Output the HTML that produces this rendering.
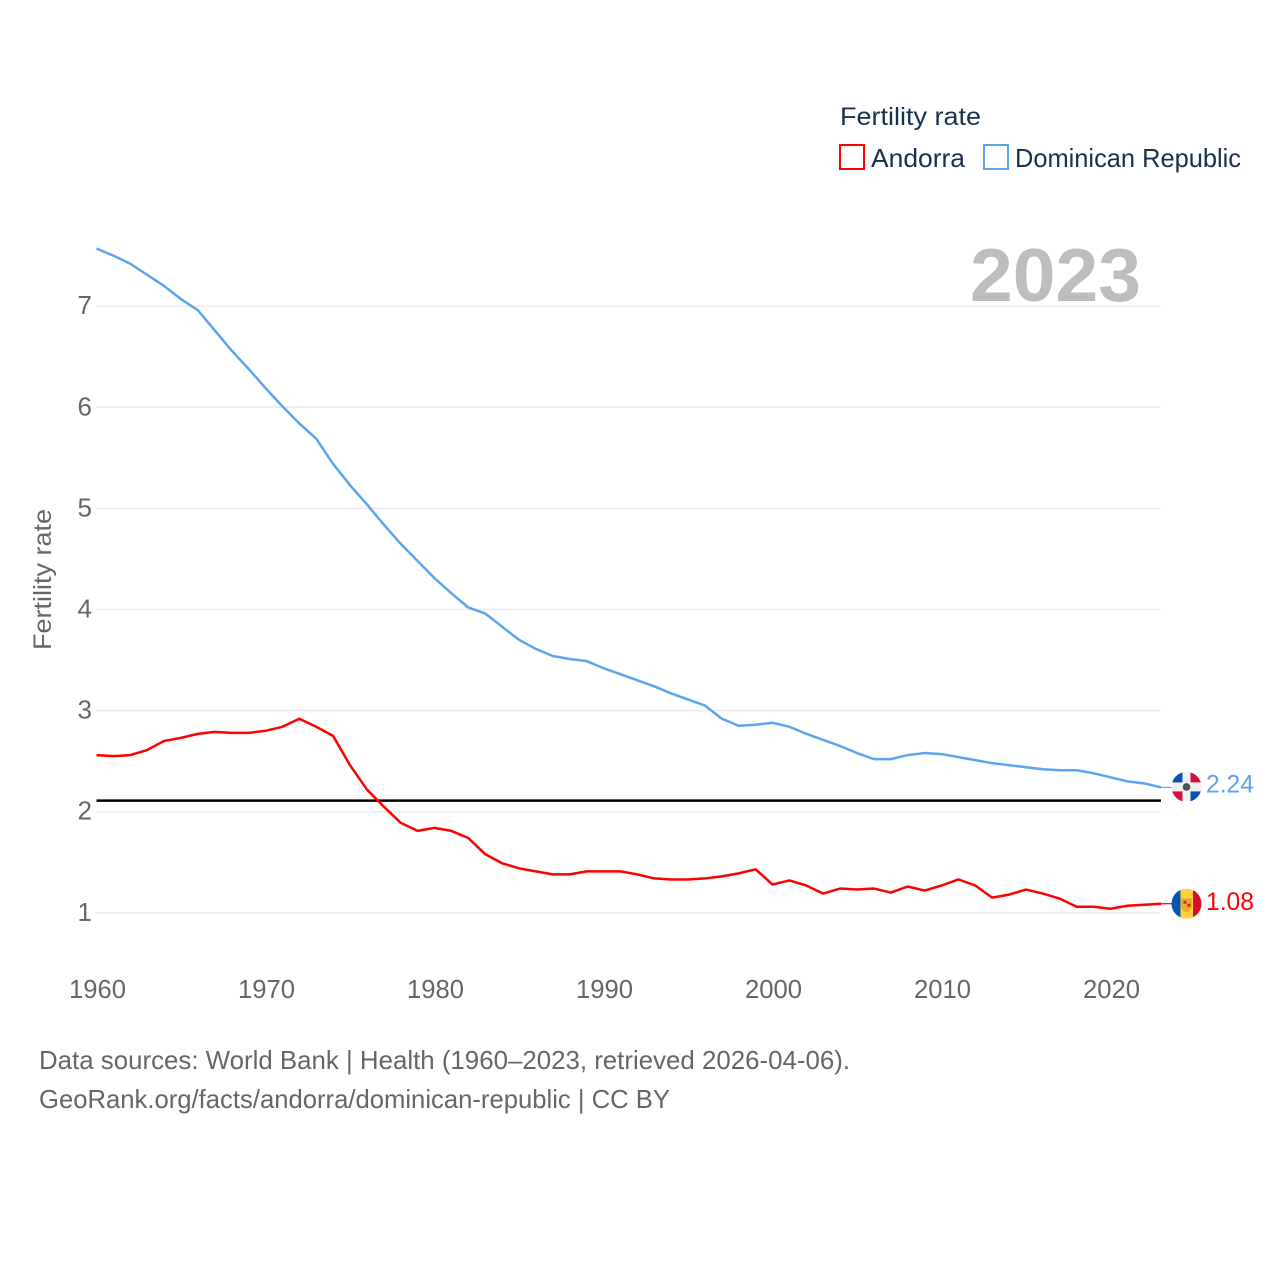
<!DOCTYPE html>
<html lang="en">
<head>
<meta charset="utf-8">
<title>Fertility rate: Andorra and Dominican Republic</title>
<style>
html,body{margin:0;padding:0;background:#fff;}
svg{display:block;}
text{font-family:"Liberation Sans",sans-serif;}
.muted{fill:#666;}
.navy{fill:#17304f;}
</style>
</head>
<body>
<svg id="chart" width="1280" height="1280" viewBox="0 0 1280 1280" xmlns="http://www.w3.org/2000/svg">
  <defs>
    <clipPath id="flag-clip"><circle cx="0" cy="0" r="15"/></clipPath>
  </defs>
  <rect width="1280" height="1280" fill="#fff"/>

  <g id="grid"></g>
  <g id="y-ticks"></g>
  <g id="x-ticks"></g>
  <g id="lines"></g>

  <text x="1141" y="301" text-anchor="end" font-size="75" font-weight="700" fill="#bdbdbd" textLength="171" lengthAdjust="spacingAndGlyphs">2023</text>

  <text class="muted" transform="translate(51 650) rotate(-90)" font-size="25" textLength="141" lengthAdjust="spacingAndGlyphs">Fertility rate</text>

  <g>
    <text class="navy" x="840" y="125" font-size="25" textLength="141" lengthAdjust="spacingAndGlyphs">Fertility rate</text>
    <g>
      <rect x="840" y="145" width="24" height="24" fill="#fff" stroke="#ff0000" stroke-width="2"/>
      <text class="navy" x="871" y="167" font-size="26" textLength="94" lengthAdjust="spacingAndGlyphs">Andorra</text>
    </g>
    <g>
      <rect x="984" y="145" width="24" height="24" fill="#fff" stroke="#5ba4f0" stroke-width="2"/>
      <text class="navy" x="1015" y="167" font-size="26" textLength="226" lengthAdjust="spacingAndGlyphs">Dominican Republic</text>
    </g>
  </g>

  <g id="flag-do">
    <g clip-path="url(#flag-clip)">
      <rect x="-15" y="-15" width="30" height="30" fill="#f0f0f0"/>
      <rect x="-15" y="-15" width="11" height="10.5" fill="#0a52b0"/>
      <rect x="4" y="-15" width="11" height="10.5" fill="#d80f3c"/>
      <rect x="-15" y="4.5" width="11" height="10.5" fill="#d80f3c"/>
      <rect x="4" y="4.5" width="11" height="10.5" fill="#0a52b0"/>
      <circle cx="0" cy="0" r="3.8" fill="#2f5a55"/>
      <circle cx="0" cy="0" r="1.6" fill="#a8323f"/>
    </g>
  </g>
  <g id="flag-ad">
    <g clip-path="url(#flag-clip)">
      <rect x="-15" y="-15" width="9" height="30" fill="#0a52b0"/>
      <rect x="-6" y="-15" width="12.5" height="30" fill="#ffd23c"/>
      <rect x="6.5" y="-15" width="8.5" height="30" fill="#d80f2c"/>
      <path d="M-5.5 -5.5 H5.5 V3 Q4 7.5 0 9 Q-4 7.5 -5.5 3 Z" fill="#f2a62e"/>
      <rect x="-3" y="-3" width="3" height="3" fill="#c0272d"/>
      <rect x="1" y="0" width="3" height="3" fill="#c0272d"/>
    </g>
  </g>

  <g id="end-labels"></g>

  <g>
    <text class="muted" x="39" y="1069" font-size="26" textLength="811" lengthAdjust="spacingAndGlyphs">Data sources: World Bank | Health (1960–2023, retrieved 2026-04-06).</text>
    <text class="muted" x="39" y="1108" font-size="26" textLength="631" lengthAdjust="spacingAndGlyphs">GeoRank.org/facts/andorra/dominican-republic | CC BY</text>
  </g>
</svg>
<script>
const years = [1960,1961,1962,1963,1964,1965,1966,1967,1968,1969,1970,1971,1972,1973,1974,1975,1976,1977,1978,1979,1980,1981,1982,1983,1984,1985,1986,1987,1988,1989,1990,1991,1992,1993,1994,1995,1996,1997,1998,1999,2000,2001,2002,2003,2004,2005,2006,2007,2008,2009,2010,2011,2012,2013,2014,2015,2016,2017,2018,2019,2020,2021,2022,2023];
const dominicanValues = [7.57,7.5,7.42,7.31,7.2,7.07,6.96,6.76,6.56,6.38,6.19,6.01,5.84,5.69,5.44,5.23,5.04,4.84,4.65,4.48,4.31,4.16,4.02,3.96,3.83,3.7,3.61,3.54,3.51,3.49,3.42,3.36,3.3,3.24,3.17,3.11,3.05,2.92,2.85,2.86,2.88,2.84,2.77,2.71,2.65,2.58,2.52,2.52,2.56,2.58,2.57,2.54,2.51,2.48,2.46,2.44,2.42,2.41,2.41,2.38,2.34,2.3,2.28,2.24];
const andorraValues = [2.56,2.55,2.56,2.61,2.7,2.73,2.77,2.79,2.78,2.78,2.8,2.84,2.92,2.84,2.75,2.46,2.22,2.05,1.89,1.81,1.84,1.81,1.74,1.58,1.49,1.44,1.41,1.38,1.38,1.41,1.41,1.41,1.38,1.34,1.33,1.33,1.34,1.36,1.39,1.43,1.28,1.32,1.27,1.19,1.24,1.23,1.24,1.2,1.26,1.22,1.27,1.33,1.27,1.15,1.18,1.23,1.19,1.14,1.06,1.06,1.04,1.07,1.08,1.09];
const replacementLevel = [2.11];
const yTicks = [1,2,3,4,5,6,7];
const xTicks = [1960,1970,1980,1990,2000,2010,2020];
const endLabels = ["2.24","1.08"];

const NS = "http://www.w3.org/2000/svg";
function xScale(year){ return 96.5 + (year - 1960) * 16.9; }
function yScale(value){ return 912.8 - (value - 1) * 101.1; }
function make(tag, attrs, parent){
  const el = document.createElementNS(NS, tag);
  for (const k in attrs) el.setAttribute(k, attrs[k]);
  parent.appendChild(el);
  return el;
}
function pointsOf(values){
  return values.map(function(v, i){ return xScale(years[i]).toFixed(2) + "," + yScale(v).toFixed(2); }).join(" ");
}

const gridG = document.getElementById("grid");
const yG = document.getElementById("y-ticks");
const xG = document.getElementById("x-ticks");
const linesG = document.getElementById("lines");
const labelsG = document.getElementById("end-labels");
const lastYear = years[years.length - 1];

yTicks.forEach(function(t){
  const g = make("line", {x1: 96, x2: 1161, y1: yScale(t), y2: yScale(t), stroke: "#ebebeb", "stroke-width": 1.5}, gridG);
  
  
  const l = make("text", {x: 92, y: yScale(t) + 8, "text-anchor": "end", "font-size": 26, class: "muted"}, yG);
  l.textContent = t;
  
  
});

xTicks.forEach(function(t){
  const l = make("text", {x: xScale(t) + 1, y: 998, "text-anchor": "middle", "font-size": 26, textLength: 57, lengthAdjust: "spacingAndGlyphs", class: "muted"}, xG);
  l.textContent = t;
  
  
});

const blueLine = make("polyline", {points: pointsOf(dominicanValues), fill: "none", stroke: "#5ba4f0", "stroke-width": 2.5, "stroke-linejoin": "round"}, linesG);



const refLine = make("line", {x1: xScale(1960), x2: 1161, y1: yScale(replacementLevel[0]), y2: yScale(replacementLevel[0]), stroke: "#000", "stroke-width": 2.5}, linesG);



const redLine = make("polyline", {points: pointsOf(andorraValues), fill: "none", stroke: "#ff0000", "stroke-width": 2.5, "stroke-linejoin": "round"}, linesG);



const doEnd = yScale(dominicanValues[dominicanValues.length - 1]);
const adEnd = yScale(andorraValues[andorraValues.length - 1]);

const doConn = make("line", {x1: xScale(lastYear), x2: 1172, y1: doEnd, y2: doEnd, stroke: "#5ba4f0", "stroke-width": 1.2}, linesG);


const adConn = make("line", {x1: xScale(lastYear), x2: 1172, y1: adEnd, y2: adEnd, stroke: "#ff0000", "stroke-width": 1.2}, linesG);



document.getElementById("flag-do").setAttribute("transform", "translate(1186.5 " + (doEnd - 0.5).toFixed(1) + ")");
document.getElementById("flag-ad").setAttribute("transform", "translate(1186.5 " + adEnd.toFixed(1) + ")");

const doLabel = make("text", {x: 1206, y: doEnd + 5, "font-size": 25, fill: "#5ba4f0", textLength: 48, lengthAdjust: "spacingAndGlyphs"}, labelsG);
doLabel.textContent = endLabels[0];


const adLabel = make("text", {x: 1206, y: adEnd + 6.5, "font-size": 25, fill: "#ff0000", textLength: 48, lengthAdjust: "spacingAndGlyphs"}, labelsG);
adLabel.textContent = endLabels[1];


</script>
</body>
</html>
